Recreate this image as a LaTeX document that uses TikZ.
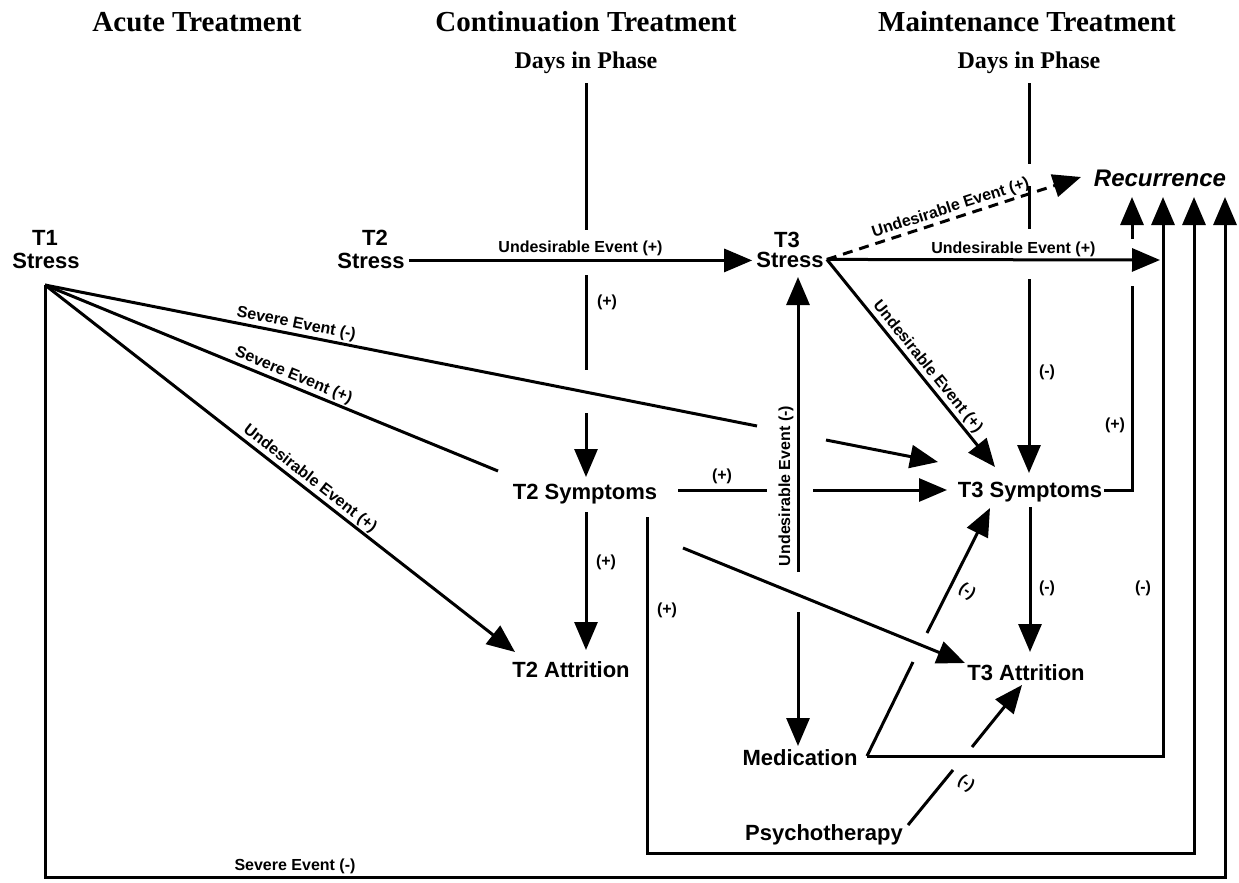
\documentclass[tikz,border=0pt]{standalone}
\usepackage{fontspec}
\setmainfont{Liberation Serif}
\setsansfont{Liberation Sans}
\usetikzlibrary{arrows.meta,calc}
\begin{document}
\begin{tikzpicture}[x=1pt,y=-1pt,
 nd/.style={font=\fontsize{22}{24}\selectfont\sffamily\bfseries,inner sep=0pt,anchor=base},
 hd/.style={font=\fontsize{29}{32}\selectfont\rmfamily\bfseries,inner sep=0pt,anchor=base},
 dp/.style={font=\fontsize{24}{26}\selectfont\rmfamily\bfseries,inner sep=0pt,anchor=base},
 lb/.style={font=\fontsize{16}{17}\selectfont\sffamily\bfseries,inner sep=1.5pt},
 ln/.style={line width=3pt},
 arr/.style={line width=3pt,-{Triangle[length=28pt,width=23pt]}},
 dsh/.style={dash pattern=on 10pt off 7pt}
]
\useasboundingbox (0,0) rectangle (1239,883);
% headers
\node[hd] (hA) at (197,32) {Acute Treatment};
\node[hd] (hC) at (586,32) {Continuation Treatment};
\node[hd] (hM) at (1027,32) {Maintenance Treatment};
\node[dp] (dC) at (586,68) {Days in Phase};
\node[dp] (dM) at (1029,68) {Days in Phase};
% nodes
\node[nd] (t1) at (45,245) {T1};
\node[nd] (s1) at (46,268) {Stress};
\node[nd] (t2) at (375,245) {T2};
\node[nd] (s2) at (371,268) {Stress};
\node[nd] (t3) at (787,247) {T3};
\node[nd] (s3) at (790,267) {Stress};
\node[nd] (sym2) at (585,499) {T2 Symptoms};
\node[nd] (sym3) at (1030,497) {T3 Symptoms};
\node[nd] (att2) at (571,677) {T2 Attrition};
\node[nd] (att3) at (1026,680) {T3 Attrition};
\node[nd] (med) at (800,765) {Medication};
\node[nd] (psy) at (824,840) {Psychotherapy};
\node[nd,font=\fontsize{24}{26}\selectfont\sffamily\bfseries\itshape] (rec) at (1160,186) {Recurrence};
% coordinates
\coordinate (apex) at (45,285);
\coordinate (s3e) at ([xshift=3pt]s3.east);
\coordinate (mede) at (867,756);
% T1 lines
\draw[ln] (apex) -- node[lb,sloped,above,pos=0.35]{Severe Event (-)} (757,426);
\draw[arr] (826,440) -- (938,462);
\draw[ln] (apex) -- node[lb,sloped,above,pos=0.54]{Severe Event (+)} (498,471);
\draw[arr] (apex) -- node[lb,sloped,above,pos=0.55]{Undesirable Event (+)} (515,652);
\draw[arr] (apex) -- (45,877) -- (1225,877) -- (1225,197);
\node[lb] at (295,866) {Severe Event (-)};
% T2 stress -> T3 stress
\draw[arr] ([xshift=4pt]s2.east) -- ([xshift=-4pt]s2.east -| s3.west) node[lb,midway,above=2pt]{Undesirable Event (+)};
% days continuation
\draw[ln] ([yshift=-10pt]dC.south) -- (586,230);
\draw[ln] (586,275) -- (586,370);
\draw[arr] (586,413) -- (586,477);
\node[lb] at (607,302) {(+)};
% days maintenance
\draw[ln] ([yshift=-10pt]dM.south) -- (1029,164);
\draw[ln] (1029,186) -- (1029,229);
\draw[arr] (1029,279) -- (1029,473);
\node[lb] at (1047,372) {(-)};
% T3 stress outputs
\draw[arr,dsh] (s3e) -- node[lb,sloped,above]{Undesirable Event (+)} (1081,177);
\draw[arr] (s3e) -- node[lb,above,pos=0.56]{Undesirable Event (+)} (1160,260);
\draw[arr] (s3e) -- node[lb,sloped,above,pos=0.55]{Undesirable Event (+)} (995,467);
% vertical T3 stress <-> medication
\draw[arr] (798,572) -- (798,277);
\draw[arr] (798,612) -- (798,746);
\node[lb,rotate=90] at (786,486) {Undesirable Event (-)};
% T2 symptoms outputs
\draw[ln] (678,490) -- (767,490);
\draw[arr] (813,490) -- (947,490);
\node[lb] at (722,476) {(+)};
\draw[arr] (586,512) -- (586,650);
\node[lb] at (606,562) {(+)};
\draw[arr] (683,548) -- (965,663);
\draw[arr] (647,517) -- (647,853) -- (1194,853) -- (1194,197);
\node[lb] at (667,610) {(+)};
% medication
\draw[ln] (mede) -- (913,662);
\draw[arr] (927,633) -- (990,508);
\node[lb,rotate=-35] at (967,592) {(-)};
\draw[arr] (mede) -- (1163,756) -- (1163,197);
\node[lb] at (1143,588) {(-)};
% psychotherapy
\draw[ln] (908,825) -- (953,770);
\draw[arr] (972,747) -- (1022,685);
\node[lb,rotate=-35] at (966,784) {(-)};
% T3 symptoms outputs
\draw[ln] (1104,490) -- (1132,490) -- (1132,286);
\draw[arr] (1132,239) -- (1132,197);
\node[lb] at (1115,425) {(+)};
\draw[arr] (1030,507) -- (1030,652);
\node[lb] at (1047,588) {(-)};
\end{tikzpicture}
\end{document}
